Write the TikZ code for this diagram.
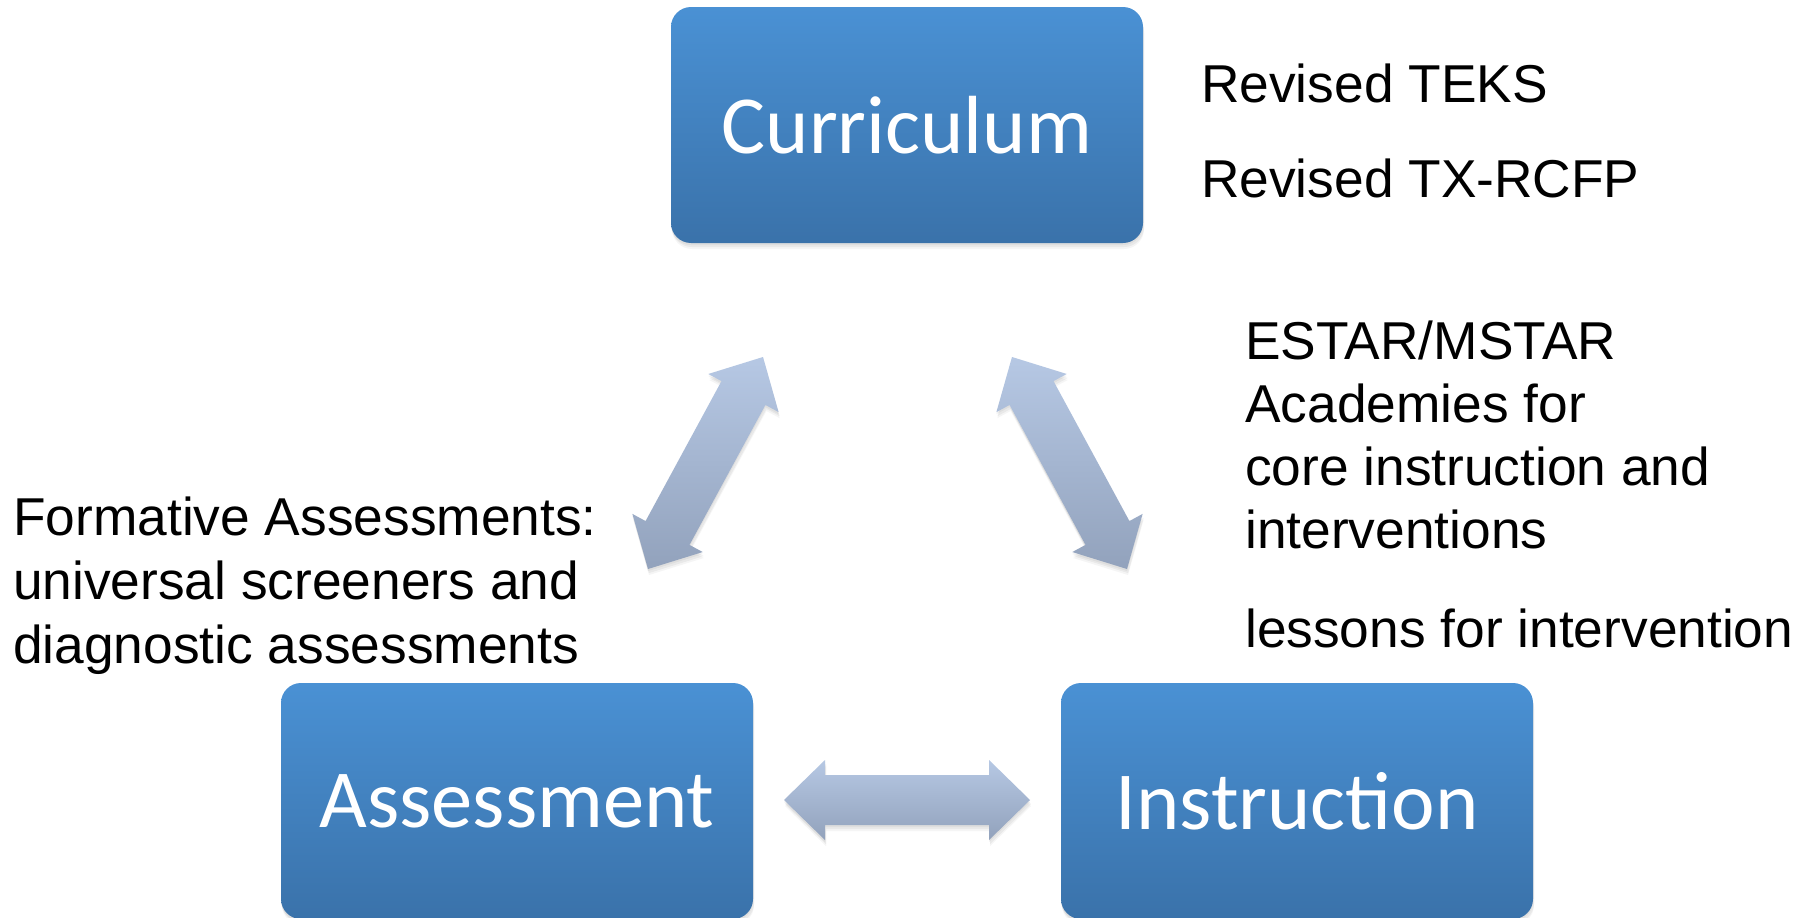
\documentclass[tikz,border=0pt]{standalone}
\usepackage{fontspec}
\setmainfont{Liberation Sans}
\newfontfamily\boxfont{Carlito}
\usetikzlibrary{calc,shadows}
\definecolor{boxtop}{RGB}{74,145,212}
\definecolor{boxbot}{RGB}{58,114,170}
\definecolor{arrtop}{RGB}{182,200,228}
\definecolor{arrbot}{RGB}{146,162,188}
\tikzset{
  softshadow/.style={
    drop shadow={opacity=0.10, shadow xshift=0pt, shadow yshift=-2pt},
    drop shadow={opacity=0.10, shadow xshift=1pt, shadow yshift=-4pt},
    drop shadow={opacity=0.08, shadow xshift=1pt, shadow yshift=-6pt}},
  stage/.style={rounded corners=20pt, minimum width=472pt, minimum height=236pt,
    inner sep=0pt, top color=boxtop, bottom color=boxbot, text=white,
    font=\boxfont\fontsize{82.5}{90}\selectfont, softshadow},
  note/.style={anchor=base west, inner sep=0pt, align=left,
    font=\fontsize{53.3}{63}\selectfont},
  blockarrow/.style={top color=arrtop, bottom color=arrbot, softshadow}
}
\newcommand\blockdbl[3]{%
  \coordinate (#1h1) at ($(#2)!41pt!(#3)$);
  \coordinate (#1h2) at ($(#3)!41pt!(#2)$);
  \path[blockarrow] (#2) -- ($(#1h1)!40pt!90:(#3)$) -- ($(#1h1)!25pt!90:(#3)$)
    -- ($(#1h2)!25pt!-90:(#2)$) -- ($(#1h2)!40pt!-90:(#2)$) -- (#3)
    -- ($(#1h2)!40pt!90:(#2)$) -- ($(#1h2)!25pt!90:(#2)$)
    -- ($(#1h1)!25pt!-90:(#3)$) -- ($(#1h1)!40pt!-90:(#3)$) -- cycle;}
\begin{document}
\begin{tikzpicture}[x=1pt,y=-1pt]
\useasboundingbox[fill=white] (0,0) rectangle (1816,918);
% boxes
\node[stage] (cur) at (907,125) {Curriculum};
\node[stage] (ass) at (517,801) {Assessment};
\node[stage] (ins) at (1297,801) {Instruction};
% arrow tips
\coordinate (lt) at (763,357);
\coordinate (lb) at (648,569);
\coordinate (rt) at (1012,357);
\coordinate (rb) at (1127,569);
\coordinate (hl) at (784,800);
\coordinate (hr) at (1030,800);
\blockdbl{la}{lt}{lb}
\blockdbl{ra}{rt}{rb}
\blockdbl{ha}{hl}{hr}
% notes (anchored at the baseline of the last line)
\node[note] (teks) at (1201,197) {Revised TEKS\\[32pt]Revised TX-RCFP};
\node[note] (estar) at (1245,647) {ESTAR/MSTAR\\Academies for\\core instruction and\\interventions\\[36pt]lessons for intervention};
\node[note, font=\fontsize{53.3}{64}\selectfont] (form) at (13,663) {Formative Assessments:\\universal screeners and\\diagnostic assessments};
\end{tikzpicture}
\end{document}
